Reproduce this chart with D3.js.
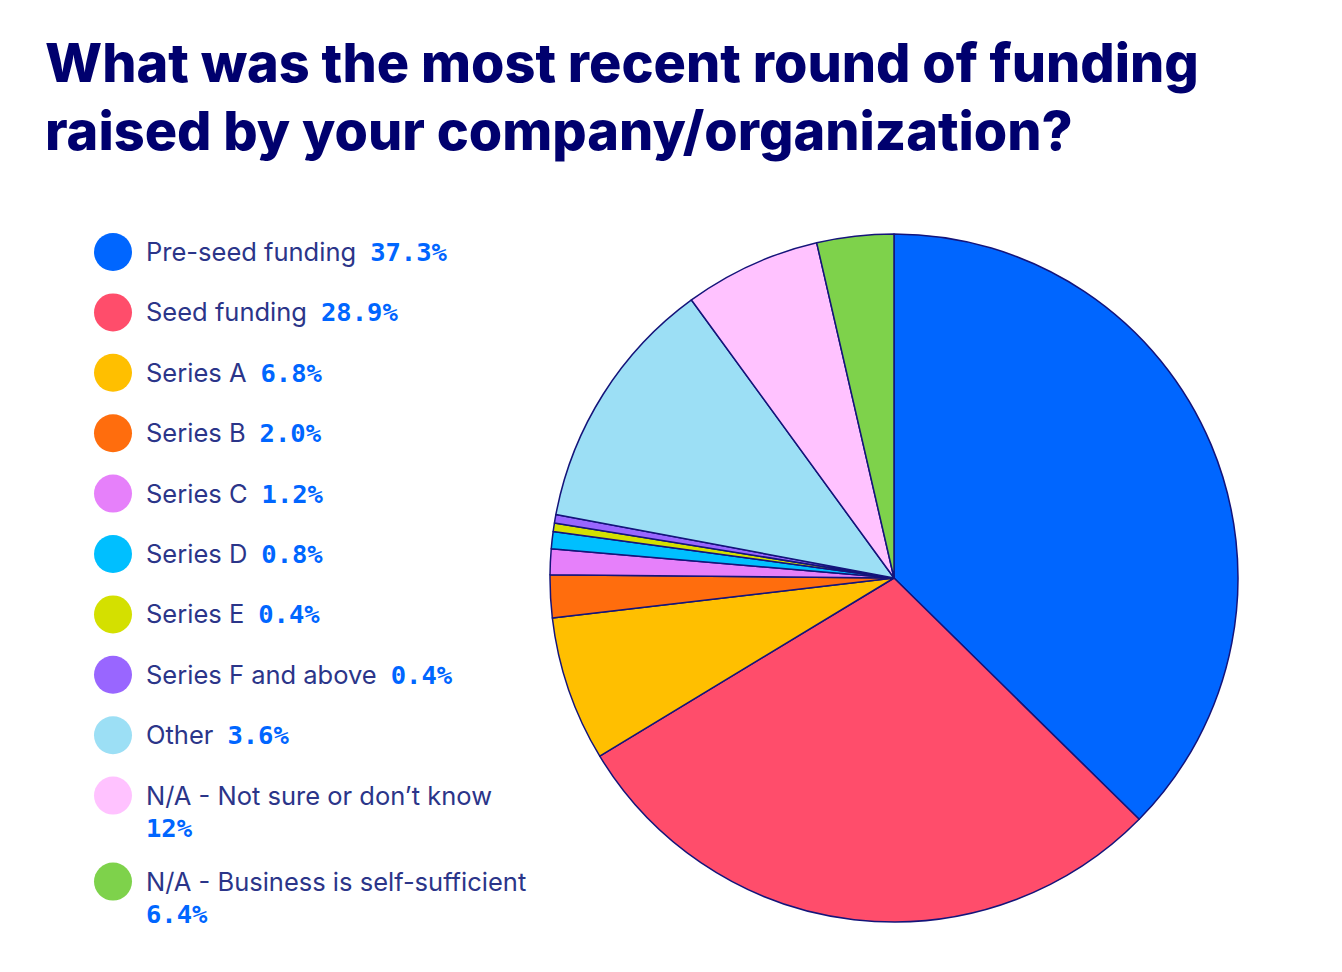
<!DOCTYPE html>
<html>
<head>
<meta charset="utf-8">
<script src="https://cdn.jsdelivr.net/npm/d3@7"></script>
<style>
  body { margin: 0; background: #fff; }
</style>
</head>
<body>
<div id="chart"></div>
<script>
// legend categories, in legend order
var categories = ["Pre-seed funding", "Seed funding", "Series A", "Series B", "Series C",
  "Series D", "Series E", "Series F and above", "Other",
  "N/A - Not sure or don\u2019t know", "N/A - Business is self-sufficient"];

// percentages as printed in the legend
var legendPct = ["37.3%", "28.9%", "6.8%", "2.0%", "1.2%", "0.8%", "0.4%", "0.4%",
  "3.6%", "12%", "6.4%"];

var sliceShare = [37.3, 28.9, 6.8, 2.0, 1.2, 0.8, 0.4, 0.4, 12, 6.4, 3.6];

var colors = ["#0066ff", "#ff4d6b", "#ffbf00", "#ff6d0d", "#e680fa", "#00bfff",
  "#d4e000", "#9966ff", "#9cdff5", "#ffc2ff", "#7ed24b"];

// legend rows that wrap the percentage onto a second line
var wrapped = [false, false, false, false, false, false, false, false, false, true, true];

var width = 1342, height = 972;

var svg = d3.select("#chart").append("svg")
    .attr("width", width)
    .attr("height", height);

// title
var title = svg.append("text")
    .attr("x", 45)
    .attr("fill", "#00006e")
    .style("font-family", "Inter, 'Noto Sans', sans-serif")
    .style("font-weight", 800)
    .style("font-size", "54px");
title.append("tspan").attr("x", 45).attr("y", 82).text("What was the most recent round of funding");
title.append("tspan").attr("x", 45).attr("y", 150).text("raised by your company/organization?");

// legend
var rowY = [];
var y0 = 252;
for (var i = 0; i < categories.length; i++) {
  rowY.push(y0);
  y0 += wrapped[i] ? 86 : 60.4;
}

var legend = svg.selectAll(".legend")
    .data(categories)
    .enter().append("g")
    .attr("class", "legend")
    .attr("transform", function(d, i) { return "translate(113," + rowY[i] + ")"; });

legend.append("circle")
    .attr("r", 19)
    .attr("fill", function(d, i) { return colors[i]; });

legend.append("text")
    .attr("x", 33)
    .attr("dy", "0.35em")
    .attr("fill", "#2b3589")
    .style("font-family", "Inter, 'Noto Sans', sans-serif")
    .style("font-size", "25.5px")
    .text(function(d) { return d; });

legend.each(function(d, i) {
  var g = d3.select(this);
  var w = g.select("text").node().getComputedTextLength();
  g.append("text")
      .attr("x", wrapped[i] ? 33 : 33 + w + 14)
      .attr("y", wrapped[i] ? 32 : 0)
      .attr("dy", "0.35em")
      .attr("fill", "#0066ff")
      .style("font-family", "'DejaVu Sans Mono', monospace")
      .style("font-weight", "bold")
      .style("font-size", "25.5px")
      .text(legendPct[i]);
});

// pie
var radius = 344;
var pieG = svg.append("g")
    .attr("transform", "translate(894,578)");

var pie = d3.pie()
    .sort(null)
    .value(function(d) { return d; });

var arc = d3.arc()
    .innerRadius(0)
    .outerRadius(radius);

pieG.selectAll(".slice")
    .data(pie(sliceShare))
    .enter().append("path")
    .attr("class", "slice")
    .attr("d", arc)
    .attr("fill", function(d, i) { return colors[i]; })
    .attr("stroke", "#14147a")
    .attr("stroke-width", 1.5)
    .attr("stroke-linejoin", "round");
</script>
</body>
</html>
